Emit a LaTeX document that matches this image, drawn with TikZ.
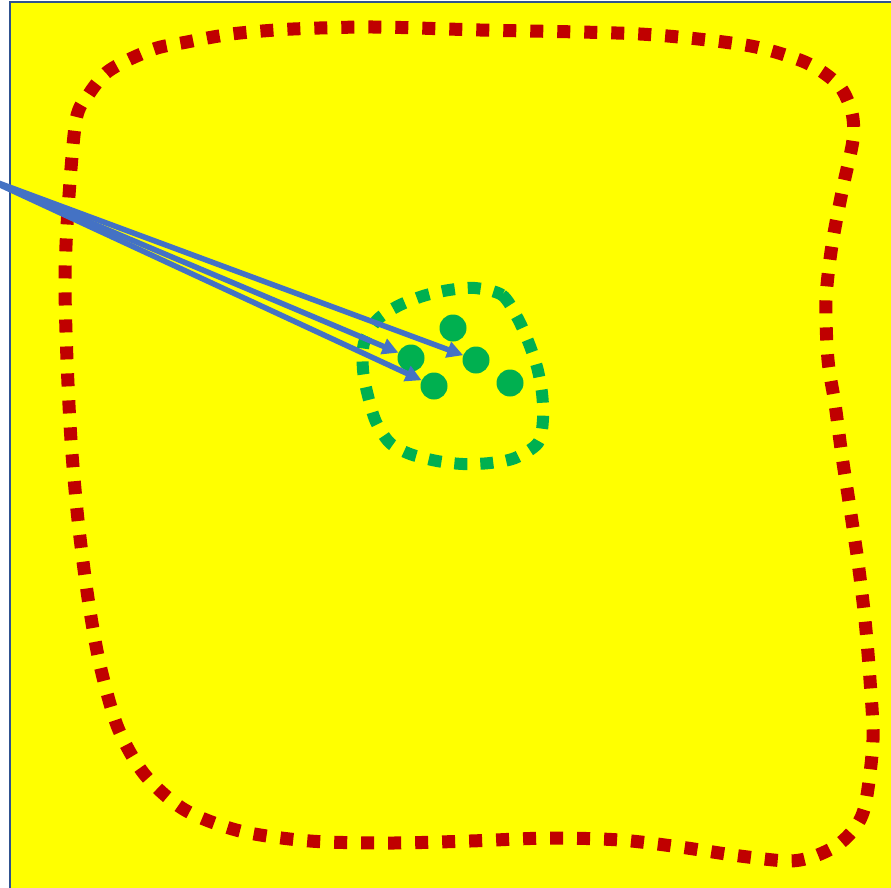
\documentclass[tikz,border=0pt]{standalone}
\usepackage{tikz}
\usetikzlibrary{positioning,arrows.meta}
\definecolor{bgyellow}{HTML}{FFFF00}
\definecolor{frameblue}{HTML}{2F528F}
\definecolor{loopred}{HTML}{C00000}
\definecolor{dotgreen}{HTML}{00B050}
\definecolor{arrowblue}{HTML}{4472C4}
\tikzset{
  frame/.style   = {draw=frameblue, line width=2.5pt, fill=bgyellow},
  outerloop/.style = {draw=loopred, line width=13pt, dash pattern=on 13pt off 14pt},
  innerloop/.style = {draw=dotgreen, line width=12pt, dash pattern=on 13pt off 13pt},
  member/.style  = {circle, fill=dotgreen, inner sep=0pt, minimum size=27pt},
  arrow/.style   = {-{Triangle[length=16pt,width=16pt]}, line width=5.5pt, draw=arrowblue},
}
\begin{document}
\begin{tikzpicture}[x=1pt,y=-1pt]
  \useasboundingbox (0,0) rectangle (891,887);
  \clip (0,0) rectangle (891,887);
  \draw[frame] (10,2) rectangle (910,910);
  % big red loop
  \draw[outerloop] plot[smooth cycle] coordinates {
    (76,120) (89,94) (106,73) (128,60) (157,48) (187,42) (213,37) (240,33)
    (293,29) (375,27) (480,30) (640,34) (745,45) (797,59) (821,71) (841,88)
    (852,113) (853,140) (843,187) (832,245) (826,300) (828,360) (835,404)
    (842,456) (850,508) (858,562) (865,620) (870,680) (873,740) (866,801)
    (857,825) (839,844) (815,856) (789,861) (740,856) (680,847) (620,840)
    (550,838) (470,841) (390,843) (310,841) (240,831) (185,810) (145,775)
    (118,728) (100,665) (88,598) (78,520) (71,440) (67,360) (65,280) (68,210)};
  % small green loop
  \draw[innerloop] plot[smooth cycle] coordinates {
    (475,288) (502,295) (517,317) (528,341) (537,367) (542,393) (543,419)
    (538,443) (515,458) (490,463) (463,464) (437,461) (410,454) (390,443)
    (376,422) (368,396) (363,370) (364,343) (377,320) (398,306) (423,296)
    (449,290)};
  % members
  \node[member] (d1) at (453,328) {};
  \node[member] (d2) at (411,358) {};
  \node[member] (d3) at (476,360) {};
  \node[member] (d4) at (434,386) {};
  \node[member] (d5) at (510,383) {};
  \coordinate (src) at (-15,178);
  \draw[arrow] (src) -- (d3);
  \draw[arrow] (src) -- (d2);
  \draw[arrow] (src) -- (d4);
\end{tikzpicture}
\end{document}
